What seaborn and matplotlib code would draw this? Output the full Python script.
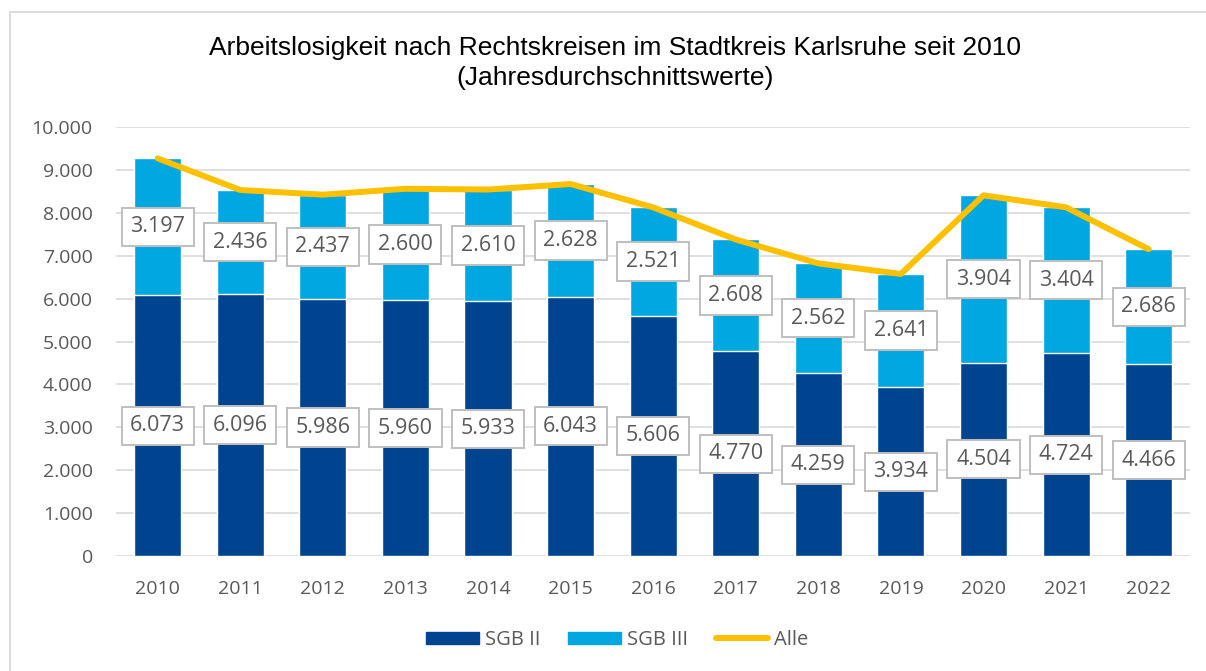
import matplotlib
matplotlib.use("Agg")
import matplotlib.pyplot as plt
from matplotlib.lines import Line2D
from matplotlib.patches import Patch
import seaborn as sns
import pandas as pd

years = ["2010", "2011", "2012", "2013", "2014", "2015", "2016",
         "2017", "2018", "2019", "2020", "2021", "2022"]
sgb2 = [6073, 6096, 5986, 5960, 5933, 6043, 5606, 4770, 4259, 3934, 4504, 4724, 4466]
sgb3 = [3197, 2436, 2437, 2600, 2610, 2628, 2521, 2608, 2562, 2641, 3904, 3404, 2686]
alle = [9270, 8532, 8423, 8560, 8543, 8671, 8127, 7378, 6821, 6575, 8408, 8128, 7152]
yticks = [0, 1000, 2000, 3000, 4000, 5000, 6000, 7000, 8000, 9000, 10000]

c_sgb2 = "#00448F"
c_sgb3 = "#00A7E1"
c_alle = "#FFC000"
c_text = "#595959"
c_grid = "#D9D9D9"

df = pd.DataFrame({"Jahr": years, "SGB II": sgb2, "SGB III": sgb3, "Alle": alle})

def de(v):
    return f"{v:,.0f}".replace(",", ".")

sns.set_theme(style="white")
plt.rcParams["font.family"] = ["Open Sans", "DejaVu Sans"]

fig = plt.figure(figsize=(12.06, 6.71), dpi=100)
ax = fig.add_axes([0.0965, 0.1714, 0.8902, 0.6393])

# stacked bars: total in light blue, SGB II drawn over it
sns.barplot(data=df, x="Jahr", y="Alle", color=c_sgb3, width=0.57,
            saturation=1, ax=ax, zorder=2)
sns.barplot(data=df, x="Jahr", y="SGB II", color=c_sgb2, width=0.57,
            saturation=1, ax=ax, zorder=3)
sns.lineplot(data=df, x="Jahr", y="Alle", color=c_alle, lw=4.3,
             solid_capstyle="round", ax=ax, zorder=4)

box = dict(boxstyle="square,pad=0.4", fc="white", ec="#BFBFBF", lw=1.4)
for i in range(len(years)):
    ax.text(i, sgb2[i] / 2, de(sgb2[i]), ha="center", va="center",
            fontsize=15.5, color=c_text, bbox=box, zorder=5)
    ax.text(i, sgb2[i] + sgb3[i] / 2, de(sgb3[i]), ha="center", va="center",
            fontsize=15.5, color=c_text, bbox=box, zorder=5)

ax.set_ylim(0, 10000)
ax.set_xlim(-0.5, len(years) - 0.5)
ax.set_yticks(yticks)
ax.set_yticklabels([de(v) for v in yticks])
ax.grid(axis="y", color=c_grid, lw=1.2, zorder=0)
ax.set_axisbelow(True)
for s in ax.spines.values():
    s.set_visible(False)
ax.tick_params(axis="y", length=0, pad=17, labelsize=14, labelcolor=c_text)
ax.tick_params(axis="x", length=0, pad=17, labelsize=14, labelcolor=c_text)
ax.set_xlabel("")
ax.set_ylabel("")

fig.text(0.51, 0.906,
         "Arbeitslosigkeit nach Rechtskreisen im Stadtkreis Karlsruhe seit 2010\n(Jahresdurchschnittswerte)",
         ha="center", va="center", fontsize=19, family="Liberation Sans",
         color="black", linespacing=1.3)

handles = [Patch(color=c_sgb2, label="SGB II"),
           Patch(color=c_sgb3, label="SGB III"),
           Line2D([], [], color=c_alle, lw=4.3, solid_capstyle="round", label="Alle")]
fig.legend(handles=handles, loc="center", bbox_to_anchor=(0.512, 0.046), ncol=3,
           frameon=False, fontsize=14.5, labelcolor=c_text, handlelength=2.6,
           handleheight=0.6, handletextpad=0.3, columnspacing=1.4)

# outer chart border (top and left visible)
fig.add_artist(Line2D([10 / 1206, 1.2], [1 - 12 / 671, 1 - 12 / 671],
                      transform=fig.transFigure, color="#D9D9D9", lw=1.3))
fig.add_artist(Line2D([10 / 1206, 10 / 1206], [1 - 12 / 671, -0.2],
                      transform=fig.transFigure, color="#D9D9D9", lw=1.3))

fig.savefig("out.png", dpi=100)
